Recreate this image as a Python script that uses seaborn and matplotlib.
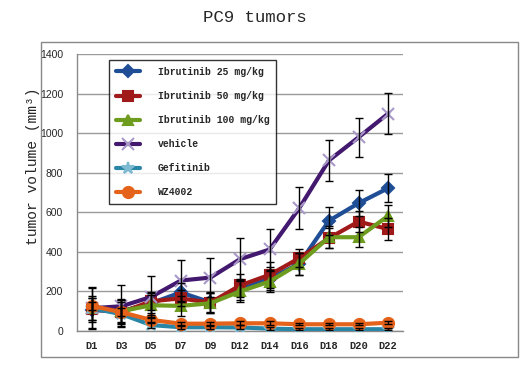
import matplotlib
matplotlib.use("Agg")
import matplotlib.pyplot as plt
import numpy as np
import pandas as pd
import seaborn as sns
from matplotlib.patches import Rectangle

# data
days = ["D1", "D3", "D5", "D7", "D9", "D12", "D14", "D16", "D18", "D20", "D22"]
groups = ["Ibrutinib 25 mg/kg", "Ibrutinib 50 mg/kg", "Ibrutinib 100 mg/kg",
          "vehicle", "Gefitinib", "WZ4002"]
ibr25 = [105, 100, 140, 195, 145, 210, 265, 340, 557, 646, 722]
ibr25_err = [60, 60, 50, 50, 50, 55, 60, 55, 70, 65, 70]
ibr50 = [110, 95, 150, 165, 143, 230, 284, 368, 469, 553, 515]
ibr50_err = [55, 60, 45, 40, 50, 60, 65, 45, 50, 55, 55]
ibr100 = [115, 100, 130, 127, 140, 200, 250, 340, 474, 474, 582]
ibr100_err = [60, 55, 50, 50, 50, 55, 55, 55, 55, 50, 55]
vehicle = [115, 125, 172, 255, 270, 363, 412, 621, 862, 979, 1099]
vehicle_err = [105, 105, 105, 105, 100, 105, 105, 105, 105, 100, 105]
gefitinib = [115, 85, 30, 19, 19, 18, 12, 9, 9, 9, 9]
gefitinib_err = [100, 60, 15, 10, 10, 10, 8, 5, 5, 5, 5]
wz4002 = [127, 95, 56, 37, 37, 39, 39, 34, 34, 34, 42]
wz4002_err = [20, 20, 15, 10, 10, 10, 10, 5, 5, 5, 8]

values = [ibr25, ibr50, ibr100, vehicle, gefitinib, wz4002]
errors = [ibr25_err, ibr50_err, ibr100_err, vehicle_err, gefitinib_err, wz4002_err]

colors = ["#1F4E96", "#A11A1A", "#6E9C1E", "#43196F", "#2A86A6", "#E5621A"]
marker_colors = ["#1F4E96", "#A11A1A", "#6E9C1E", "#A898C8", "#7DBAD2", "#E5621A"]
markers = ["D", "s", "^", "x", "*", "o"]
msizes = [6, 7, 7, 9, 9, 8]

sns.set_style("white")
plt.rcParams["font.family"] = ["Liberation Mono", "DejaVu Sans"]

fig = plt.figure(figsize=(5.26, 3.72), dpi=100)
ax = fig.add_axes([77 / 526, 1 - 331 / 372, 326 / 526, 277 / 372])

# outer chart border
fig.patches.append(Rectangle((41 / 526, 1 - 357 / 372), 477 / 526, 315 / 372,
                             transform=fig.transFigure, fill=False,
                             edgecolor="#888888", lw=1))

for name, vals, err, c, mc, m, ms in zip(groups, values, errors, colors,
                                         marker_colors, markers, msizes):
    sns.lineplot(x=days, y=vals, ax=ax, color=c, lw=3, marker=m,
                 markersize=ms, markerfacecolor=mc, markeredgecolor=mc,
                 markeredgewidth=1.5, label=name, sort=False, zorder=3)

for vals, err in zip(values, errors):
    ax.errorbar(days, vals, yerr=err, fmt="none", ecolor="black",
                elinewidth=1, capsize=3, capthick=1, zorder=5)

ax.set_ylim(0, 1400)
ax.set_xlim(-0.5, len(days) - 0.5)
ax.set_yticks(range(0, 1401, 200))
ax.yaxis.grid(True, color="#9a9a9a", lw=1)
ax.set_axisbelow(True)
for s in ["top", "right"]:
    ax.spines[s].set_visible(False)
for s in ["left", "bottom"]:
    ax.spines[s].set_color("#8a8a8a")
    ax.spines[s].set_linewidth(1)
ax.tick_params(axis="y", length=0, pad=10)
ax.tick_params(axis="x", length=0, pad=7)
for t in ax.get_yticklabels():
    t.set_fontfamily("Liberation Sans")
    t.set_fontsize(7.5)
for t in ax.get_xticklabels():
    t.set_fontweight("bold")
    t.set_fontsize(7.5)
ax.set_xlabel("")
ax.set_ylabel("")

fig.text(255 / 526, 1 - 18 / 372, "PC9 tumors", ha="center", va="center",
         fontsize=12.5)
fig.text(33 / 526, 1 - 166 / 372, "tumor volume (mm³)", ha="center",
         va="center", rotation=90, fontsize=10.5)

leg = ax.legend(loc="upper left", bbox_to_anchor=(109 / 526, 1 - 60 / 372),
                bbox_transform=fig.transFigure, fontsize=7, frameon=True,
                fancybox=False, handlelength=2.5, labelspacing=1.45,
                borderpad=0.7, handletextpad=1.8, borderaxespad=0)
leg.get_frame().set_edgecolor("black")
leg.get_frame().set_linewidth(1)
for t in leg.get_texts():
    t.set_fontweight("bold")

fig.savefig("out.png", dpi=100)
